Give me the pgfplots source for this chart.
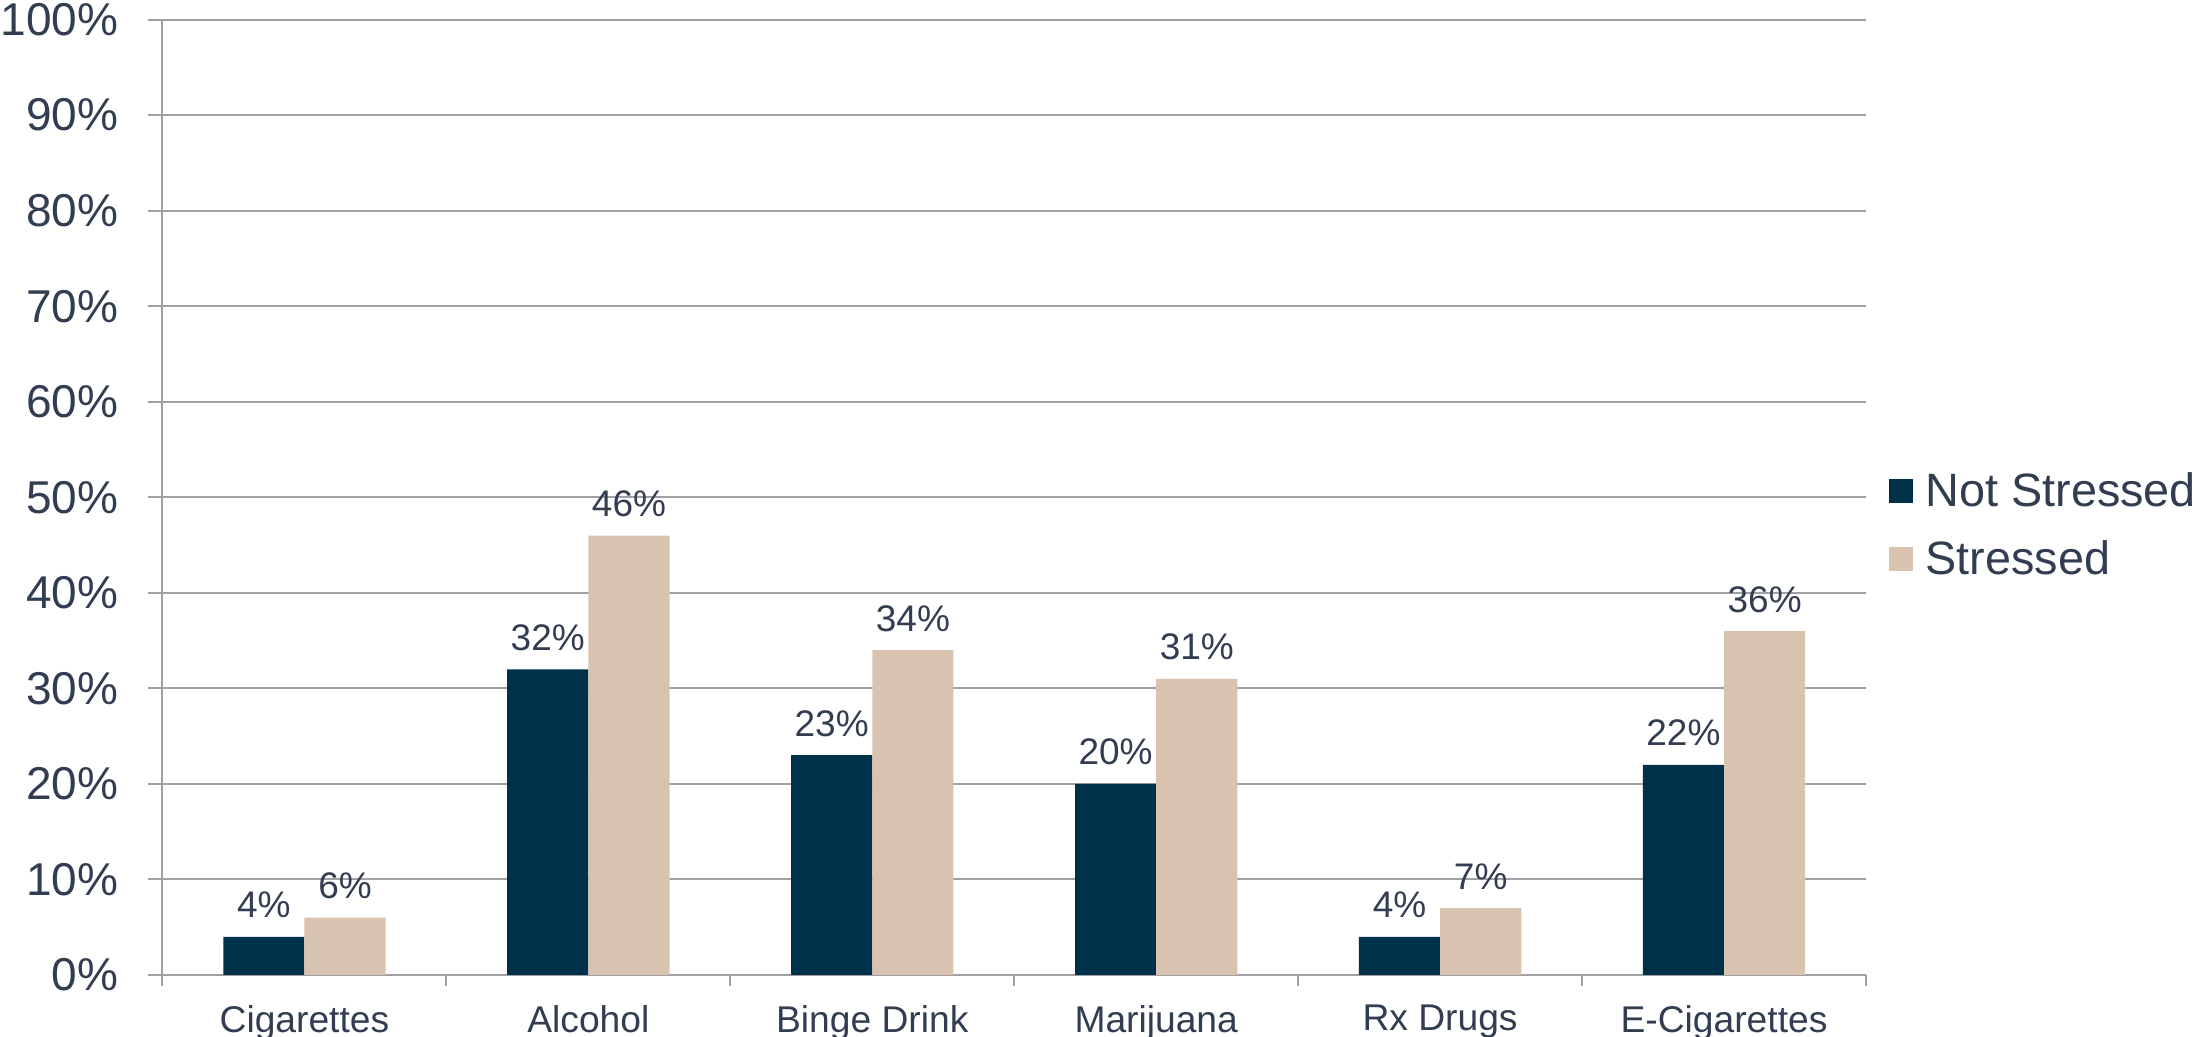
\documentclass[border=0pt]{standalone}
\usepackage{pgfplots}
\pgfplotsset{compat=1.18}
\usepackage{fontspec}
\setmainfont{Liberation Sans}
\definecolor{navy}{RGB}{0,49,74}
\definecolor{tan}{RGB}{216,195,176}
\definecolor{txt}{RGB}{51,61,82}
\definecolor{gridc}{RGB}{160,160,164}
\begin{document}
\begin{tikzpicture}
\begin{axis}[
  at={(0,0)}, anchor=south west,
  scale only axis, width=851.75pt, height=477.7pt,
  ybar=0pt, bar width=40.6pt,
  xmin=-0.5, xmax=5.5, ymin=0, ymax=100,
  axis lines=left, axis line style={-, gridc, line width=1pt},
  tick align=outside,
  xtick={0,1,2,3,4,5},
  xticklabels={Cigarettes,Alcohol,Binge Drink,Marijuana,Rx Drugs,E-Cigarettes},
  major x tick style={draw=none},
  minor xtick={-0.5,0.5,1.5,2.5,3.5,4.5,5.5},
  minor tick length=5.5pt, major tick length=7pt,
  tick style={gridc, line width=1pt},
  ytick={0,10,...,100},
  yticklabels={0\%,10\%,20\%,30\%,40\%,50\%,60\%,70\%,80\%,90\%,100\%},
  ymajorgrids, grid style={gridc, line width=1pt},
  yticklabel style={font=\fontsize{23}{27}\selectfont, color=txt, inner sep=0pt, xshift=-15pt},
  xticklabel style={font=\fontsize{18.6}{22}\selectfont, color=txt, inner sep=0pt, anchor=north, yshift=-8pt},
  nodes near coords={\pgfmathprintnumber[assume math mode=true]{\pgfplotspointmeta}\%},
  every node near coord/.append style={anchor=base, inner sep=0pt, yshift=9.5pt, font=\fontsize{18.5}{22}\selectfont, color=txt},
  legend cell align=left,
  legend image code/.code={\path[#1, draw=none] (0pt,-6pt) rectangle (12pt,6pt);},
  legend style={draw=none, fill=none, at={(1.013,0.471)}, anchor=west, inner sep=0pt,
    font=\fontsize{23.4}{28}\selectfont, text=txt, row sep=15.5pt,
    nodes={inner sep=0pt}, /tikz/every odd column/.append style={column sep=6.5pt}},
  clip=false,
]
\addplot[fill=navy, draw=none] coordinates {(0,4) (1,32) (2,23) (3,20) (4,4) (5,22)};
\addplot[fill=tan, draw=none] coordinates {(0,6) (1,46) (2,34) (3,31) (4,7) (5,36)};
\legend{Not Stressed, Stressed}
\end{axis}
\pgfresetboundingbox
\useasboundingbox (-81.25pt,-31pt) rectangle (1017.25pt,487.5pt);
\end{tikzpicture}
\end{document}
